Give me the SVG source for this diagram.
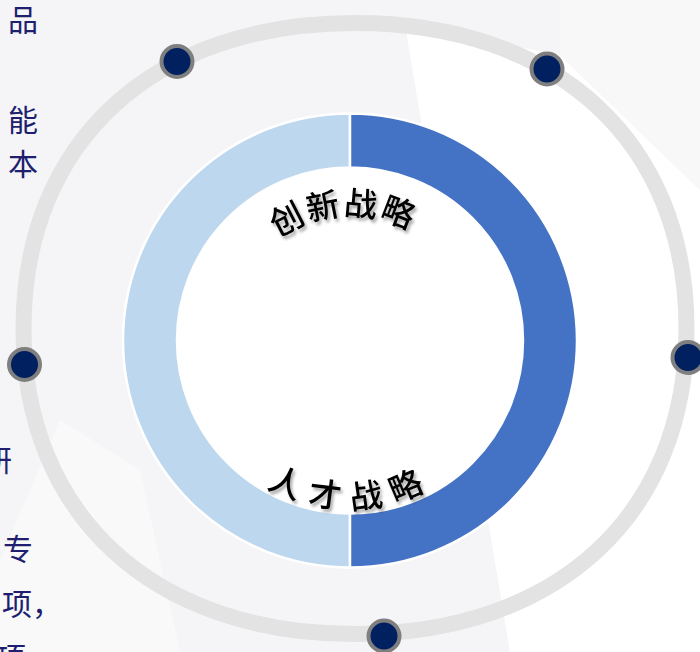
<svg xmlns="http://www.w3.org/2000/svg" width="700" height="652" viewBox="0 0 700 652">
  <defs>
    <style>
      .side { font-family: "Noto Sans CJK SC", "Noto Sans", sans-serif; font-size: 30px; fill: #201E6E; }
      .arc { font-family: "Noto Sans CJK SC", "Noto Sans", sans-serif; font-size: 33px; font-weight: 500; fill: #000000; }
      .dot { fill: #002060; stroke: #7F7F7F; stroke-width: 4; }
      .seg { stroke: #FFFFFF; stroke-width: 2.5; }
    </style>
    <filter id="shadow" x="-20%" y="-20%" width="140%" height="160%">
      <feDropShadow dx="2" dy="3" stdDeviation="1.5" flood-color="#000000" flood-opacity="0.35"/>
    </filter>
    <path id="arcTop" d="M 225,340.5 A 125,125 0 0 1 475,340.5"/>
    <path id="arcBottom" d="M 182,340.5 A 168,168 0 0 0 518,340.5"/>
  </defs>

  <!-- background -->
  <rect x="0" y="0" width="700" height="652" fill="#F5F5F7"/>
  <polygon points="405,25 560,55 700,190 700,652 510,652" fill="#FFFFFF"/>
  <polygon points="560,0 700,0 700,190 560,55" fill="#F8F8F8"/>
  <polygon points="60,420 140,470 180,652 0,652 0,560" fill="#F9F9FA"/>

  <!-- left partial text -->
  <g id="side-text">
    <text class="side" x="8" y="31">品</text>
    <text class="side" x="8" y="131">能</text>
    <text class="side" x="8" y="175">本</text>
    <text class="side" x="-18" y="471">研</text>
    <text class="side" x="3" y="560">专</text>
    <text class="side" x="2" y="615">项，</text>
    <text class="side" x="-4" y="669">项，</text>
  </g>

  <!-- outer ring -->
  <g id="ring">
    <path d="M 686.5,328.5 C 686.5,514.9 557.2,634 355,634 C 152.8,634 23.5,514.9 23.5,328.5 C 23.5,142.1 152.8,23 355,23 C 557.2,23 686.5,142.1 686.5,328.5 Z" fill="none" stroke="#E3E3E3" stroke-width="16"/>
  </g>

  <!-- donut -->
  <g id="donut">
    <circle cx="350" cy="340.5" r="173" fill="#FFFFFF"/>
    <path class="seg" d="M 350,113.5 A 227,227 0 0 0 350,567.5 L 350,513.5 A 173,173 0 0 1 350,167.5 Z" fill="#BDD7EE"/>
    <path class="seg" d="M 350,113.5 A 227,227 0 0 1 350,567.5 L 350,513.5 A 173,173 0 0 0 350,167.5 Z" fill="#4472C4"/>
  </g>

  <g id="label-innovation" filter="url(#shadow)">
    <text class="arc" letter-spacing="2"><textPath href="#arcTop" startOffset="48.3%" text-anchor="middle">创新战略</textPath></text>
  </g>
  <g id="label-talent" filter="url(#shadow)">
    <text class="arc" font-size="34" letter-spacing="11"><textPath href="#arcBottom" startOffset="50.2%" text-anchor="middle">人才战略</textPath></text>
  </g>

  <!-- dots on ring -->
  <g id="dot-1"><circle class="dot" cx="177" cy="61.5" r="15.5"/></g>
  <g id="dot-2"><circle class="dot" cx="547" cy="69" r="15.5"/></g>
  <g id="dot-3"><circle class="dot" cx="24.5" cy="364.5" r="15.5"/></g>
  <g id="dot-4"><circle class="dot" cx="688" cy="357.5" r="15.5"/></g>
  <g id="dot-5"><circle class="dot" cx="384" cy="636" r="15.5"/></g>
</svg>
